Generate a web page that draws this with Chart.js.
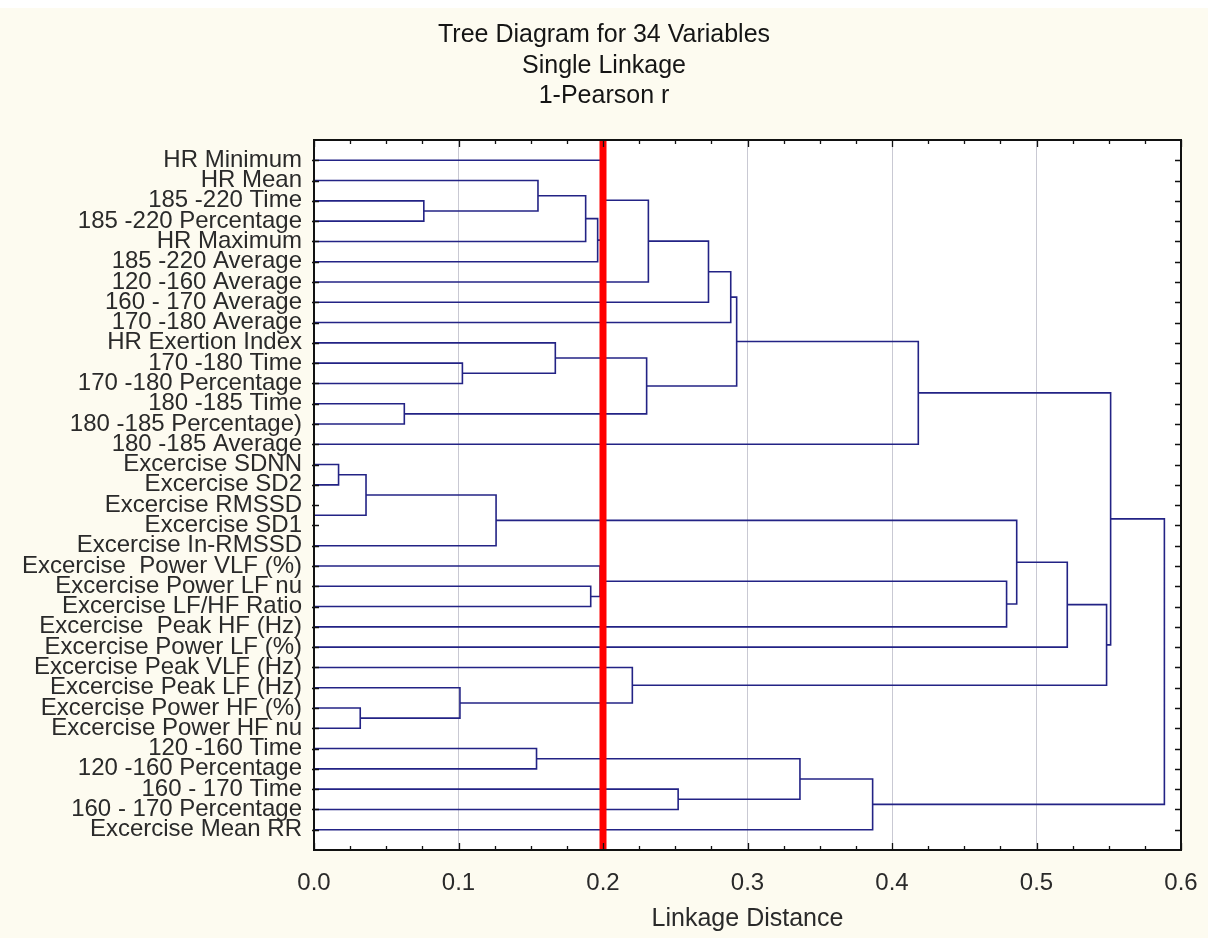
<!DOCTYPE html>
<html>
<head>
<meta charset="utf-8">
<script src="https://cdn.jsdelivr.net/npm/chart.js@4.4.1/dist/chart.umd.min.js"></script>
<style>
  html, body { margin: 0; padding: 0; background: #fdfbf0; }
  #wrap { width: 1208px; height: 938px; }
  canvas { display: block; }
</style>
</head>
<body>
<div id="wrap"><canvas id="c" width="1208" height="938"></canvas></div>
<script>
// ---------------- data ----------------
const titleLines = ['Tree Diagram for 34 Variables', 'Single Linkage', '1-Pearson r'];
const xAxisTitle = 'Linkage Distance';

const variableLabels = [
  'HR Minimum', 'HR Mean', '185 -220 Time', '185 -220 Percentage', 'HR Maximum',
  '185 -220 Average', '120 -160 Average', '160 - 170 Average', '170 -180 Average',
  'HR Exertion Index', '170 -180 Time', '170 -180 Percentage', '180 -185 Time',
  '180 -185 Percentage)', '180 -185 Average', 'Excercise SDNN', 'Excercise SD2',
  'Excercise RMSSD', 'Excercise SD1', 'Excercise In-RMSSD', 'Excercise  Power VLF (%)',
  'Excercise Power LF nu', 'Excercise LF/HF Ratio', 'Excercise  Peak HF (Hz)',
  'Excercise Power LF (%)', 'Excercise Peak VLF (Hz)', 'Excercise Peak LF (Hz)',
  'Excercise Power HF (%)', 'Excercise Power HF nu', '120 -160 Time',
  '120 -160 Percentage', '160 - 170 Time', '160 - 170 Percentage', 'Excercise Mean RR'
];

// merge k joins node mergeLeft[k] and node mergeRight[k] at mergeDistance[k];
// leaves are 0..33, the node created by merge k gets index 34 + k
const mergeLeft     = [17, 15, 27, 35, 12,  2, 26, 10, 37, 29,  1,  9, 44, 21, 46, 20,  0, 25, 45, 50, 31, 53, 55, 56, 43, 58, 57, 49, 42, 62, 63, 60, 65];
const mergeRight    = [18, 16, 28, 34, 13,  3, 36, 11, 19, 30, 39, 41,  4, 22,  5, 47, 48, 40, 38,  6, 32,  7,  8, 52, 54, 33, 14, 23, 61, 24, 51, 64, 59];
const mergeDistance = [0.000, 0.017, 0.032, 0.036, 0.0625, 0.076, 0.101, 0.1027, 0.126, 0.154, 0.155,
                       0.167, 0.188, 0.1915, 0.1963, 0.198, 0.199, 0.2203, 0.2302, 0.2314, 0.252,
                       0.273, 0.2884, 0.2925, 0.3363, 0.3866, 0.4182, 0.4793, 0.4863, 0.5213,
                       0.5485, 0.5513, 0.5885];

const xTickValues = [0.0, 0.1, 0.2, 0.3, 0.4, 0.5, 0.6];
const cutDistance = 0.2;

// ---------------- build dendrogram path ----------------
const nodeRow = variableLabels.map((_, i) => i);
const nodeHeight = variableLabels.map(() => 0);
const treePoints = [];
mergeLeft.forEach((a, k) => {
  const b = mergeRight[k];
  const h = mergeDistance[k];
  treePoints.push(
    { x: nodeHeight[a], y: nodeRow[a] },
    { x: h, y: nodeRow[a] },
    { x: h, y: nodeRow[b] },
    { x: nodeHeight[b], y: nodeRow[b] },
    { x: null, y: null }
  );
  nodeRow.push((nodeRow[a] + nodeRow[b]) / 2);
  nodeHeight.push(h);
});

const yMin = -1, yMax = variableLabels.length;
const xMin = xTickValues[0], xMax = xTickValues[xTickValues.length - 1];
const FONT = "'Liberation Sans', Arial, Helvetica, sans-serif";

// ---------------- decoration plugin ----------------
const decor = {
  id: 'decor',
  beforeDraw(chart) {
    const { ctx, chartArea: a } = chart;
    ctx.save();
    ctx.fillStyle = '#fdfbf0';
    ctx.fillRect(0, 0, chart.width, chart.height);
    ctx.fillStyle = '#ffffff';
    ctx.fillRect(0, 0, chart.width, 8);
    ctx.fillRect(a.left, a.top, a.right - a.left, a.bottom - a.top);
    // title
    ctx.fillStyle = '#151515';
    ctx.font = '25px ' + FONT;
    ctx.textAlign = 'center';
    ctx.textBaseline = 'middle';
    titleLines.forEach((t, i) => ctx.fillText(t, 604, 35.5 + i * 30.5));
    ctx.restore();
  },
  afterDraw(chart) {
    const { ctx, chartArea: a, scales } = chart;
    const xs = scales.x, ys = scales.y;
    ctx.save();
    ctx.strokeStyle = '#111111';
    ctx.lineWidth = 1.3;
    ctx.beginPath();
    for (let v = xMin; v <= xMax + 1e-9; v += 0.025) {
      const px = Math.round(xs.getPixelForValue(v)) + 0.5;
      const major = Math.abs(v * 10 - Math.round(v * 10)) < 1e-6;
      const len = major ? 7 : 4;
      ctx.moveTo(px, a.bottom); ctx.lineTo(px, a.bottom - len);
      ctx.moveTo(px, a.top); ctx.lineTo(px, a.top + len);
    }
    for (let i = 0; i < variableLabels.length; i++) {
      const py = Math.round(ys.getPixelForValue(i)) + 0.5;
      ctx.moveTo(a.left - 2, py); ctx.lineTo(a.left + 5, py);
      ctx.moveTo(a.right, py); ctx.lineTo(a.right - 6, py);
    }
    ctx.stroke();
    ctx.lineWidth = 2;
    ctx.strokeRect(a.left, a.top, a.right - a.left, a.bottom - a.top);
    ctx.restore();
  }
};

new Chart(document.getElementById('c'), {
  type: 'scatter',
  data: {
    datasets: [
      {
        label: 'cut',
        data: [{ x: cutDistance, y: yMin }, { x: cutDistance, y: yMax }],
        showLine: true,
        borderColor: '#ff0000',
        borderWidth: 7,
        pointRadius: 0,
        borderCapStyle: 'butt'
      },
      {
        label: 'tree',
        data: treePoints,
        showLine: true,
        spanGaps: false,
        borderColor: '#232385',
        borderWidth: 1.6,
        pointRadius: 0,
        tension: 0,
        borderJoinStyle: 'miter',
        borderCapStyle: 'butt'
      }
    ]
  },
  options: {
    responsive: false,
    animation: false,
    events: [],
    layout: { padding: { left: 0, right: 27, top: 140, bottom: 0 } },
    plugins: {
      legend: { display: false },
      tooltip: { enabled: false },
      title: { display: false }
    },
    scales: {
      x: {
        type: 'linear',
        position: 'bottom',
        min: xMin,
        max: xMax,
        afterBuildTicks: (s) => { s.ticks = xTickValues.map(v => ({ value: v })); },
        afterFit: (s) => { s.height = 88; s.paddingLeft = 0; s.paddingRight = 0; },
        grid: { color: '#c9c9d3', lineWidth: 1, drawTicks: false },
        border: { display: false },
        ticks: {
          color: '#2a2a2a',
          font: { family: FONT, size: 24 },
          padding: 19,
          maxRotation: 0,
          callback: (v) => Number(v).toFixed(1)
        },
        title: {
          display: true,
          text: xAxisTitle,
          color: '#2a2a2a',
          font: { family: FONT, size: 25 },
          padding: { top: 0, bottom: 4 }
        }
      },
      y: {
        type: 'linear',
        position: 'left',
        reverse: true,
        min: yMin,
        max: yMax,
        afterBuildTicks: (s) => { s.ticks = variableLabels.map((_, i) => ({ value: i })); },
        afterFit: (s) => { s.width = 314; s.paddingTop = 0; s.paddingBottom = 0; },
        grid: { display: false, drawTicks: false },
        border: { display: false },
        ticks: {
          autoSkip: false,
          color: '#2a2a2a',
          font: { family: FONT, size: 24, lineHeight: 1 },
          padding: 12,
          callback: (v) => variableLabels[v] ?? ''
        }
      }
    }
  },
  plugins: [decor]
});
</script>
</body>
</html>
